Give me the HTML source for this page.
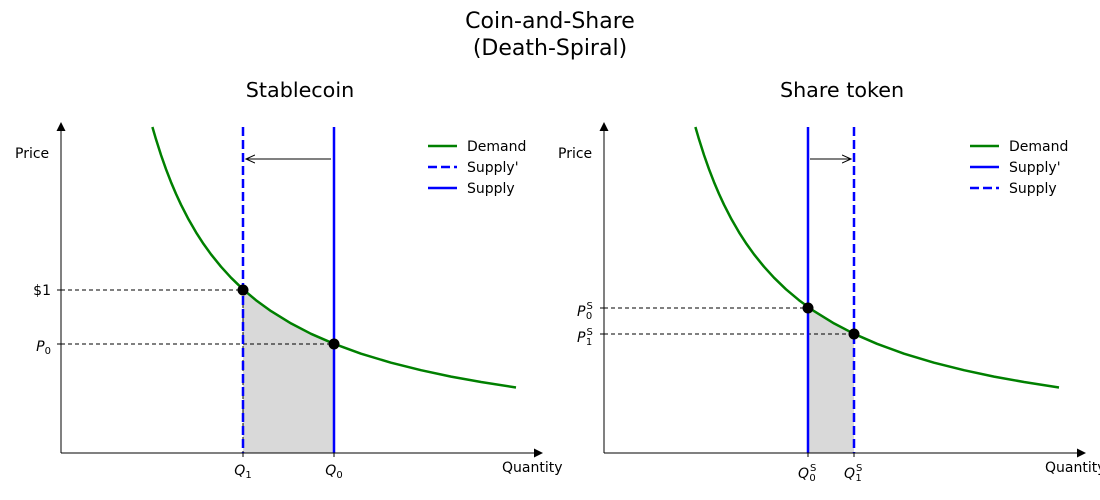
<!DOCTYPE html>
<html><head><meta charset="utf-8"><style>
html,body{margin:0;padding:0;background:#fff;}
svg{display:block;font-family:"DejaVu Sans","Liberation Sans",sans-serif;}
</style></head><body>
<svg width="1100" height="500" viewBox="0 0 1100 500" xmlns="http://www.w3.org/2000/svg">
<defs>
<marker id="ah" markerWidth="10" markerHeight="10" refX="9" refY="5" orient="auto" markerUnits="userSpaceOnUse">
<path d="M0,1 L9,5 L0,9" fill="none" stroke="#000" stroke-width="1"/>
</marker>
</defs>
<text x="550" y="28" font-size="22" text-anchor="middle">Coin-and-Share</text>
<text x="550" y="55" font-size="22" text-anchor="middle">(Death-Spiral)</text>
<text x="300" y="97" font-size="20.7" text-anchor="middle">Stablecoin</text>
<text x="842" y="97" font-size="20.7" text-anchor="middle">Share token</text>

<!-- LEFT -->
<g>
<path d="M243,289.3 L256,300.2 L271,311.1 L291,323.4 L311,333.8 L334,343.8 L334,453 L243,453 Z" fill="#d9d9d9"/>
<line x1="61" y1="290" x2="243" y2="290" stroke="#000" stroke-width="1" stroke-dasharray="4,3"/>
<line x1="61" y1="344" x2="334" y2="344" stroke="#000" stroke-width="1" stroke-dasharray="4,3"/>
<line x1="243" y1="290" x2="243" y2="453" stroke="#000" stroke-width="1" stroke-dasharray="4,3"/>
<line x1="243" y1="127" x2="243" y2="453" stroke="#0000ff" stroke-width="2.5" stroke-dasharray="9,4"/>
<line x1="334" y1="127" x2="334" y2="453" stroke="#0000ff" stroke-width="2.5"/>
<polyline id="dem" fill="none" stroke="#008000" stroke-width="2.5" stroke-linejoin="round" points="152.4,127 156,139.3 161,155 166,169.2 171,182.1 176,193.9 181,204.7 188.5,219.3 196,232.3 203.5,243.9 211,254.3 221,266.7 231,277.7 243,289.3 256,300.2 271,311.1 291,323.4 311,333.8 334,343.8 361,353.7 391,362.7 421,370.2 451,376.6 481,382 516,387.5"/>
<circle cx="243" cy="290" r="5.5" fill="#000"/>
<circle cx="334" cy="344" r="5.5" fill="#000"/>
<line x1="331" y1="159" x2="246" y2="159" stroke="#000" stroke-width="1" marker-end="url(#ah)"/>
<line x1="61" y1="453" x2="61" y2="126" stroke="#000" stroke-width="1"/>
<path d="M56.5,131 L61,122 L65.5,131 Z" fill="#000"/>
<line x1="61" y1="453" x2="536" y2="453" stroke="#000" stroke-width="1"/>
<path d="M534,448.5 L543,453 L534,457.5 Z" fill="#000"/>
<line x1="243" y1="453" x2="243" y2="457" stroke="#000"/>
<line x1="334" y1="453" x2="334" y2="457" stroke="#000"/>
<line x1="57" y1="290" x2="61" y2="290" stroke="#000"/>
<line x1="57" y1="344" x2="61" y2="344" stroke="#000"/>
<text x="15" y="158" font-size="14">Price</text>
<text x="502" y="472" font-size="14">Quantity</text>
<text x="51" y="295" font-size="14" text-anchor="end">$1</text>
<text x="51" y="351" font-size="14" text-anchor="end" font-style="italic">P<tspan font-size="10" dy="3" font-style="normal">0</tspan></text>
<text x="243" y="475" font-size="14" text-anchor="middle" font-style="italic">Q<tspan font-size="10" dy="3" font-style="normal">1</tspan></text>
<text x="334" y="475" font-size="14" text-anchor="middle" font-style="italic">Q<tspan font-size="10" dy="3" font-style="normal">0</tspan></text>
<line x1="428" y1="146" x2="457" y2="146" stroke="#008000" stroke-width="2.5"/>
<line x1="428" y1="167" x2="457" y2="167" stroke="#0000ff" stroke-width="2.5" stroke-dasharray="9,4"/>
<line x1="428" y1="188" x2="457" y2="188" stroke="#0000ff" stroke-width="2.5"/>
<text x="467" y="151" font-size="14">Demand</text>
<text x="467" y="172" font-size="14">Supply'</text>
<text x="467" y="193" font-size="14">Supply</text>
</g>

<!-- RIGHT -->
<g>
<path d="M808,308 L830,322.5 L854,334 L854,453 L808,453 Z" fill="#d9d9d9"/>
<line x1="604" y1="308" x2="808" y2="308" stroke="#000" stroke-width="1" stroke-dasharray="4,3"/>
<line x1="604" y1="334" x2="854" y2="334" stroke="#000" stroke-width="1" stroke-dasharray="4,3"/>
<line x1="808" y1="127" x2="808" y2="453" stroke="#0000ff" stroke-width="2.5"/>
<line x1="854" y1="127" x2="854" y2="453" stroke="#0000ff" stroke-width="2.5" stroke-dasharray="9,4"/>
<g transform="translate(543,0)">
<polyline fill="none" stroke="#008000" stroke-width="2.5" stroke-linejoin="round" points="152.4,127 156,139.3 161,155 166,169.2 171,182.1 176,193.9 181,204.7 188.5,219.3 196,232.3 203.5,243.9 211,254.3 221,266.7 231,277.7 243,289.3 256,300.2 271,311.1 291,323.4 311,333.8 334,343.8 361,353.7 391,362.7 421,370.2 451,376.6 481,382 516,387.5"/>
</g>
<circle cx="808" cy="308" r="5.5" fill="#000"/>
<circle cx="854" cy="334" r="5.5" fill="#000"/>
<line x1="810" y1="159" x2="851" y2="159" stroke="#000" stroke-width="1" marker-end="url(#ah)"/>
<line x1="604" y1="453" x2="604" y2="126" stroke="#000" stroke-width="1"/>
<path d="M599.5,131 L604,122 L608.5,131 Z" fill="#000"/>
<line x1="604" y1="453" x2="1079" y2="453" stroke="#000" stroke-width="1"/>
<path d="M1077,448.5 L1086,453 L1077,457.5 Z" fill="#000"/>
<line x1="808" y1="453" x2="808" y2="457" stroke="#000"/>
<line x1="854" y1="453" x2="854" y2="457" stroke="#000"/>
<line x1="600" y1="308" x2="604" y2="308" stroke="#000"/>
<line x1="600" y1="334" x2="604" y2="334" stroke="#000"/>
<text x="558" y="158" font-size="14">Price</text>
<text x="1045" y="472" font-size="14">Quantity</text>
<text x="577" y="316" font-size="14" font-style="italic">P<tspan font-size="10" dx="1" dy="-7" font-style="normal">S</tspan><tspan font-size="10" dx="-7" dy="10" font-style="normal">0</tspan></text>
<text x="577" y="342" font-size="14" font-style="italic">P<tspan font-size="10" dx="1" dy="-7" font-style="normal">S</tspan><tspan font-size="10" dx="-7" dy="10" font-style="normal">1</tspan></text>
<text x="798" y="478" font-size="14" font-style="italic">Q<tspan font-size="10" dx="1" dy="-7" font-style="normal">S</tspan><tspan font-size="10" dx="-7" dy="10" font-style="normal">0</tspan></text>
<text x="844" y="478" font-size="14" font-style="italic">Q<tspan font-size="10" dx="1" dy="-7" font-style="normal">S</tspan><tspan font-size="10" dx="-7" dy="10" font-style="normal">1</tspan></text>
<line x1="970" y1="146" x2="999" y2="146" stroke="#008000" stroke-width="2.5"/>
<line x1="970" y1="167" x2="999" y2="167" stroke="#0000ff" stroke-width="2.5"/>
<line x1="970" y1="188" x2="999" y2="188" stroke="#0000ff" stroke-width="2.5" stroke-dasharray="9,4"/>
<text x="1009" y="151" font-size="14">Demand</text>
<text x="1009" y="172" font-size="14">Supply'</text>
<text x="1009" y="193" font-size="14">Supply</text>
</g>
</svg>
</body></html>
